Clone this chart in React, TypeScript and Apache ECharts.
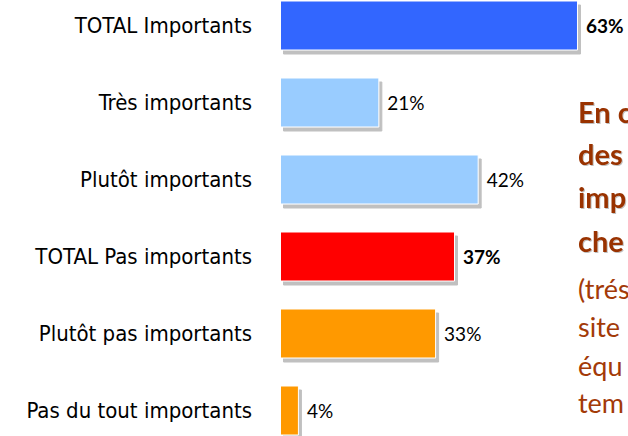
import React, { useEffect, useRef } from "react";
import * as echarts from "echarts";

const categories = [
  "TOTAL Importants",
  "Très importants",
  "Plutôt importants",
  "TOTAL Pas importants",
  "Plutôt pas importants",
  "Pas du tout importants",
];
const values = [63, 21, 42, 37, 33, 4];
const barColors = ["#3366FF", "#99CCFF", "#99CCFF", "#FF0000", "#FF9900", "#FF9900"];
const boldLabels = [true, false, false, true, false, false];

const boldLines = ["En c", "des", "imp", "che"];
const normalLines = ["(trés", "site", "équ", "tem"];

const OFFSET = 13; // chart div starts 13px above the visible page

export default function App() {
  const ref = useRef<HTMLDivElement>(null);
  useEffect(() => {
    if (!ref.current) return;
    const chart = echarts.init(ref.current, null, { renderer: "svg" });
    const textColor = "#993300";
    const boldBase = [121.7, 164, 207, 251];
    const normalBase = [298, 336, 375, 412];
    const graphics: any[] = [];
    boldLines.forEach((t, i) => {
      graphics.push({
        type: "text",
        left: 578,
        top: boldBase[i] - 25 + OFFSET,
        silent: true,
        style: {
          text: t,
          fill: textColor,
          font: "bold 29px Lato",
          textShadowColor: "rgba(0,0,0,0.25)",
          textShadowOffsetX: 1,
          textShadowOffsetY: 1,
          textShadowBlur: 1,
        },
      });
    });
    normalLines.forEach((t, i) => {
      graphics.push({
        type: "text",
        left: 578,
        top: normalBase[i] - 23 + OFFSET,
        silent: true,
        style: {
          text: t,
          fill: "#A33A08",
          font: "27px Lato",
        },
      });
    });
    chart.setOption({
      animation: false,
      grid: { left: 280, width: 331.1, top: 0, height: 462, containLabel: false },
      xAxis: { type: "value", min: 0, max: 70, show: false },
      yAxis: {
        type: "category",
        data: categories,
        inverse: true,
        axisLine: { show: false },
        axisTick: { show: false },
        splitLine: { show: false },
        axisLabel: {
          margin: 28,
          color: "#000",
          fontFamily: "DejaVu Sans Condensed",
          fontSize: 22,
        },
      },
      series: [
        {
          type: "bar",
          barWidth: 50,
          data: values.map((v, i) => ({
            value: v,
            itemStyle: { color: barColors[i] },
            label: { fontWeight: boldLabels[i] ? "bold" : "normal" },
          })),
          itemStyle: {
            borderColor: "#ffffff",
            borderWidth: 1,
            shadowColor: "#c0c0c0",
            shadowBlur: 0,
            shadowOffsetX: 3,
            shadowOffsetY: 4,
          },
          label: {
            show: true,
            position: "right",
            distance: 8,
            formatter: "{c}%",
            color: "#000",
            fontFamily: "Lato",
            fontSize: 19,
          },
        },
      ],
      graphic: graphics,
    });
    return () => chart.dispose();
  }, []);
  return (
    <div
      style={{
        position: "fixed",
        left: 0,
        top: 0,
        width: 628,
        height: 436,
        overflow: "hidden",
        background: "#fff",
      }}
    >
      <div
        ref={ref}
        style={{ position: "absolute", left: 0, top: -OFFSET, width: 628, height: 462 }}
      />
    </div>
  );
}
